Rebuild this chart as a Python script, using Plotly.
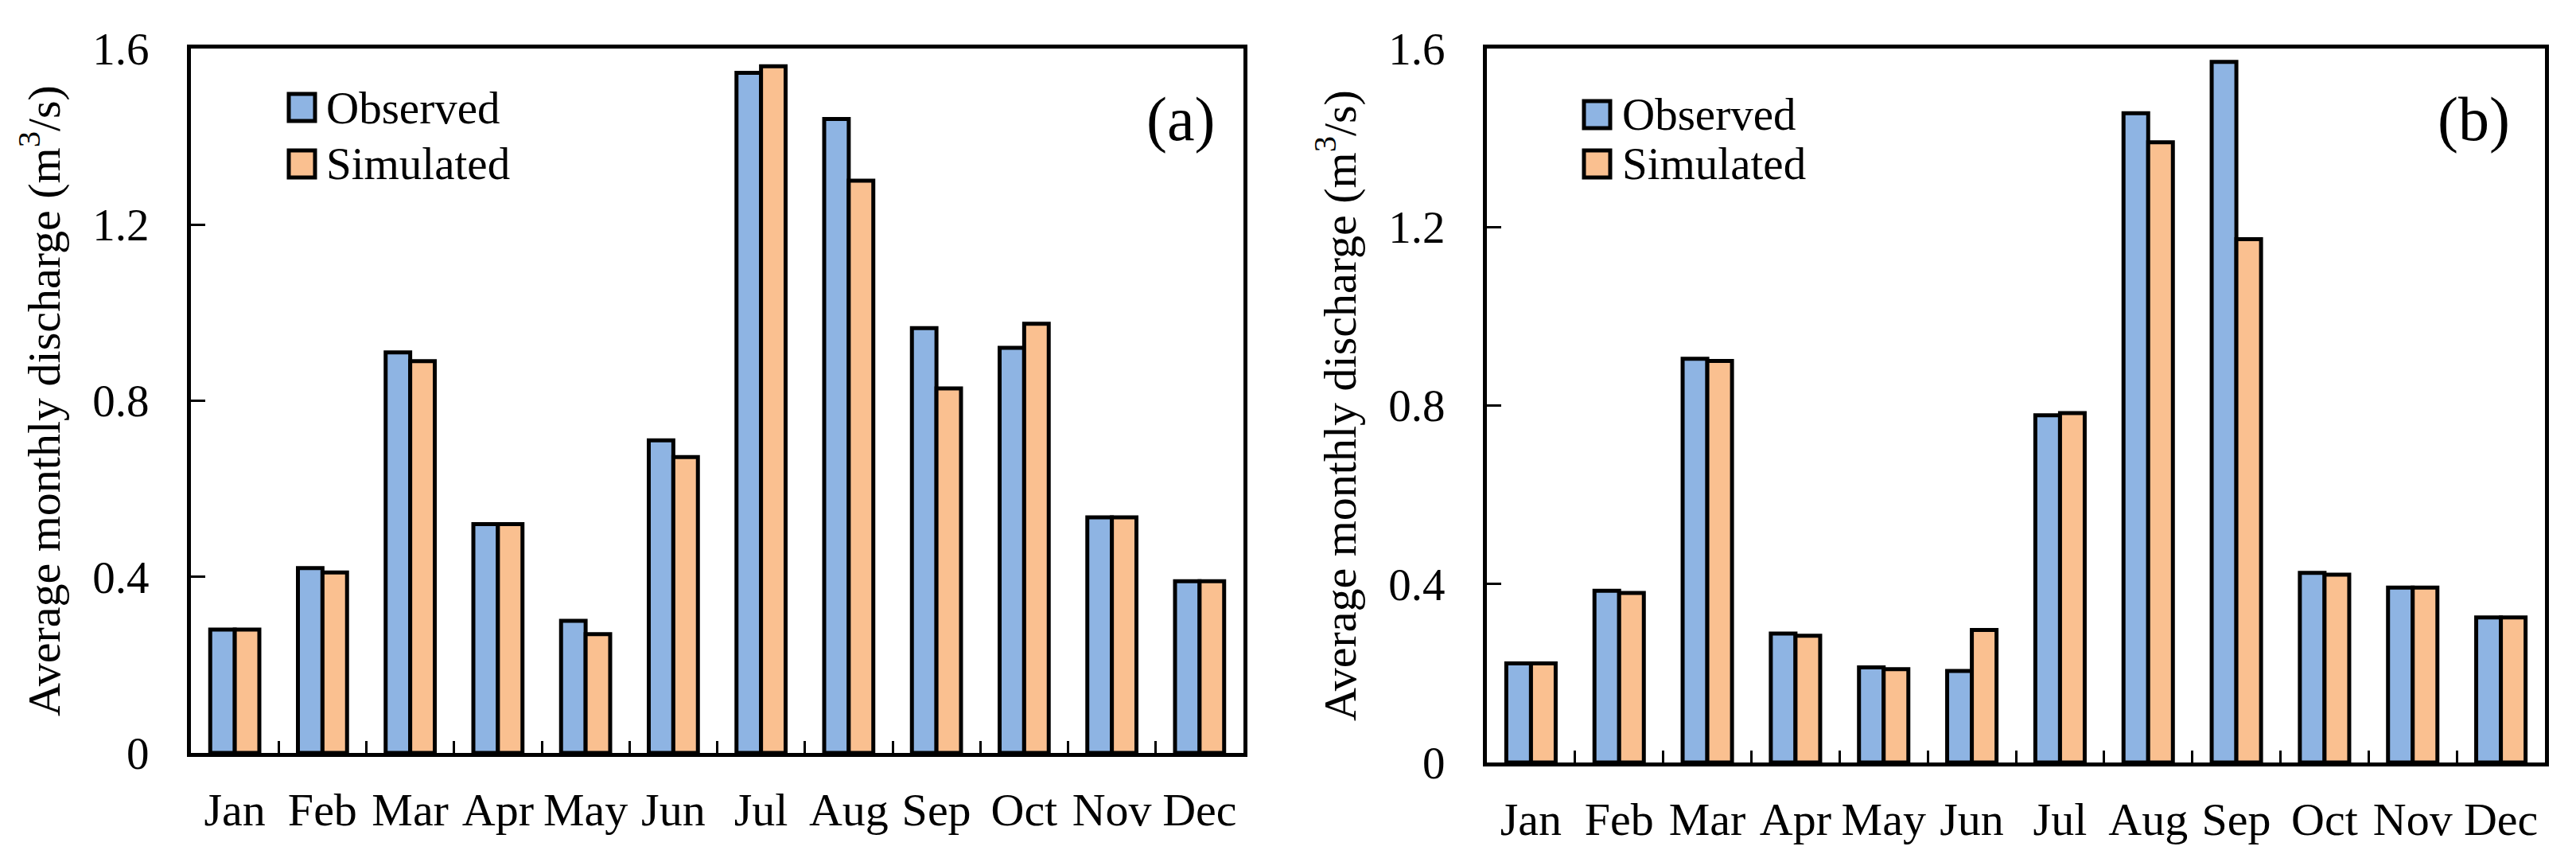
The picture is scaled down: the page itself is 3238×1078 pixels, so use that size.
import plotly.graph_objects as go

W, H = 3238, 1078

months = ["Jan", "Feb", "Mar", "Apr", "May", "Jun", "Jul", "Aug", "Sep", "Oct", "Nov", "Dec"]
obs_a = [0.28, 0.42, 0.91, 0.52, 0.30, 0.71, 1.545, 1.44, 0.965, 0.92, 0.535, 0.39]
sim_a = [0.28, 0.41, 0.89, 0.52, 0.27, 0.672, 1.56, 1.30, 0.828, 0.975, 0.535, 0.39]
obs_b = [0.222, 0.385, 0.905, 0.289, 0.213, 0.205, 0.778, 1.455, 1.57, 0.425, 0.392, 0.325]
sim_b = [0.222, 0.38, 0.90, 0.284, 0.209, 0.297, 0.783, 1.39, 1.173, 0.421, 0.392, 0.325]
y_ticks = [0, 0.4, 0.8, 1.2, 1.6]
y_tick_text = ["0", "0.4", "0.8", "1.2", "1.6"]

BLUE = "#8EB4E3"
ORANGE = "#FAC090"
FONT = "Liberation Serif, Times New Roman, serif"


def px(x):
    return x / W


def py(y):
    return 1 - y / H


fig = go.Figure()
for xs, ys, obs, sim in [("x", "y", obs_a, sim_a), ("x2", "y2", obs_b, sim_b)]:
    fig.add_trace(go.Bar(x=months, y=obs, name="Observed", xaxis=xs, yaxis=ys,
                         marker=dict(color=BLUE, line=dict(color="black", width=5)),
                         showlegend=False))
    fig.add_trace(go.Bar(x=months, y=sim, name="Simulated", xaxis=xs, yaxis=ys,
                         marker=dict(color=ORANGE, line=dict(color="black", width=5)),
                         showlegend=False))

xcommon = dict(type="category", showline=True, linecolor="black", linewidth=5, mirror=True,
               ticks="inside", tickson="boundaries", ticklen=15, tickwidth=3, tickcolor="black",
               showgrid=False, zeroline=False, ticklabelstandoff=16, tickangle=0,
               automargin=False,
               tickfont=dict(family=FONT, size=58, color="black"))
ycommon = dict(range=[0, 1.6], tickvals=y_ticks, ticktext=y_tick_text,
               showline=True, linecolor="black", linewidth=5, mirror=True,
               ticks="inside", ticklen=18, tickwidth=3, tickcolor="black",
               showgrid=False, zeroline=False, ticklabelstandoff=36, automargin=False,
               tickfont=dict(family=FONT, size=57, color="black"),
               title=dict(text="Average monthly discharge (m<sup>3</sup>/s)",
                          font=dict(family=FONT, size=58, color="black"), standoff=24))

fig.update_layout(
    width=W, height=H,
    margin=dict(l=0, r=0, t=0, b=0, autoexpand=False),
    paper_bgcolor="white", plot_bgcolor="white",
    barmode="group", bargap=0.44, bargroupgap=0,
    xaxis=dict(domain=[px(232), px(1555)], anchor="y", **xcommon),
    yaxis=dict(domain=[py(938), py(53)], anchor="x", **ycommon),
    xaxis2=dict(domain=[px(1861), px(3191)], anchor="y2", **xcommon),
    yaxis2=dict(domain=[py(950), py(53)], anchor="x2", **ycommon),
)

# legend and panel labels
legends = [
    (355, 110, 181, 400, "(a)", 1476),
    (1983, 119, 181, 2029, "(b)", 3101),
]
for sx, oy, sy, tx, lab, labx in legends:
    for y0, col, name in [(oy, BLUE, "Observed"), (sy, ORANGE, "Simulated")]:
        fig.add_shape(type="rect", xref="paper", yref="paper",
                      x0=px(sx), x1=px(sx + 33), y0=py(y0 + 34), y1=py(y0),
                      fillcolor=col, line=dict(color="black", width=5))
        fig.add_annotation(xref="paper", yref="paper", x=px(tx), y=py(y0 + 17),
                           xanchor="left", yanchor="middle", showarrow=False, text=name,
                           font=dict(family=FONT, size=57, color="black"))
    fig.add_annotation(xref="paper", yref="paper", x=px(labx), y=py(141),
                       xanchor="center", yanchor="middle", showarrow=False, text=lab,
                       font=dict(family=FONT, size=78, color="black"))

fig.write_html("out.html")
